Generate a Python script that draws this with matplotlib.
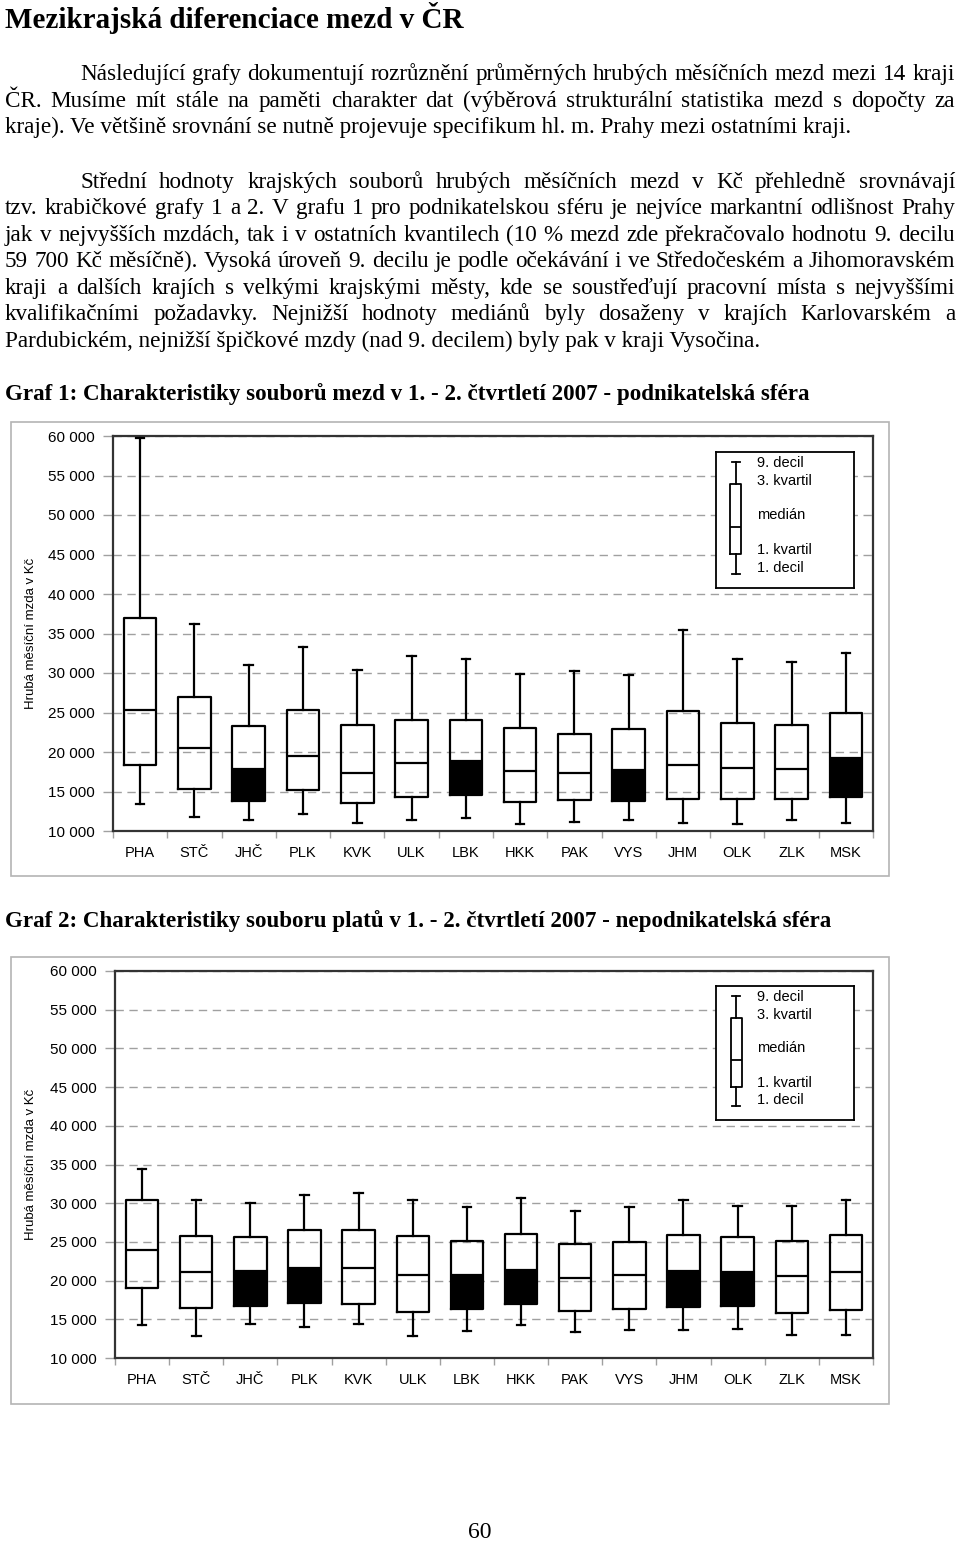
import matplotlib
matplotlib.use('Agg')
import matplotlib.pyplot as plt
from matplotlib.patches import Rectangle
import numpy as np

# kraje
kraje = ['PHA', 'STČ', 'JHČ', 'PLK', 'KVK', 'ULK', 'LBK', 'HKK', 'PAK', 'VYS', 'JHM', 'OLK', 'ZLK', 'MSK']

# Graf 1 - podnikatelska sfera
d1_pod = [13400, 11800, 11350, 12100, 11050, 11350, 11650, 10900, 11200, 11350, 11050, 10900, 11350, 11050]
q1_pod = [18300, 15350, 13850, 15200, 13600, 14300, 14600, 13700, 13900, 13850, 14000, 14000, 14000, 14250]
med_pod = [25300, 20550, 17900, 19500, 17300, 18650, 18800, 17600, 17300, 17750, 18300, 18000, 17900, 19250]
q3_pod = [37000, 26950, 23250, 25300, 23400, 24100, 24100, 23100, 22300, 22900, 25150, 23650, 23400, 25000]
d9_pod = [59700, 36150, 30950, 33350, 30400, 32150, 31750, 29850, 30200, 29750, 35400, 31800, 31400, 32550]
cerne_pod = ['JHČ', 'LBK', 'VYS', 'MSK']

# Graf 2 - nepodnikatelska sfera
d1_nep = [14200, 12850, 14350, 14050, 14350, 12850, 13500, 14200, 13300, 13600, 13600, 13750, 12950, 12950]
q1_nep = [19100, 16500, 16750, 17050, 16950, 15900, 16300, 16950, 16050, 16350, 16650, 16750, 15750, 16200]
med_nep = [23900, 21150, 21200, 21650, 21650, 20750, 20750, 21350, 20300, 20750, 21200, 21050, 20600, 21050]
q3_nep = [30350, 25750, 25600, 26550, 26500, 25750, 25150, 26000, 24700, 25000, 25900, 25600, 25100, 25900]
d9_nep = [34400, 30350, 30000, 31050, 31350, 30450, 29550, 30650, 28950, 29550, 30350, 29700, 29700, 30450]
cerne_nep = ['JHČ', 'PLK', 'LBK', 'HKK', 'JHM', 'OLK']

yticks = list(range(10000, 60001, 5000))
legenda = ['9. decil', '3. kvartil', 'medián', '1. kvartil', '1. decil']

W, H = 960, 1545
fig = plt.figure(figsize=(W / 100, H / 100), dpi=100)
fig.patch.set_facecolor('white')
r = fig.canvas.get_renderer()

SERIF = ['Liberation Serif', 'DejaVu Serif']
SANS = ['Liberation Sans', 'DejaVu Sans']
BODY = 16.7


def fx(px):
    return px / W


def fy(py):
    return 1 - py / H


def text_width(s, size, weight):
    t = fig.text(0, 0, s, fontsize=size, family=SERIF, fontweight=weight)
    w = t.get_window_extent(renderer=r).width
    t.remove()
    return w


def radek(s, y, x0=5, x1=None, size=BODY, weight='normal'):
    # y = stred malych pismen; x1 zadano -> zarovnani do bloku
    base = fy(y + size * 0.36)
    if x1 is None:
        fig.text(fx(x0), base, s, fontsize=size, family=SERIF, fontweight=weight, va='baseline')
        return
    slova = s.split(' ')
    sirky = [text_width(w, size, weight) for w in slova]
    mezera = (x1 - x0 - sum(sirky)) / (len(slova) - 1)
    x = x0
    for w, sw in zip(slova, sirky):
        fig.text(fx(x), base, w, fontsize=size, family=SERIF, fontweight=weight, va='baseline')
        x += sw + mezera


radek('Mezikrajská diferenciace mezd v ČR', 20, size=21, weight='bold')

radek('Následující grafy dokumentují rozrůznění průměrných hrubých měsíčních mezd mezi 14 kraji', 74, 80, 955)
radek('ČR. Musíme mít stále na paměti charakter dat (výběrová strukturální statistika mezd s dopočty za', 101, 5, 955)
radek('kraje). Ve většině srovnání se nutně projevuje specifikum hl. m. Prahy mezi ostatními kraji.', 127)

radek('Střední hodnoty krajských souborů hrubých měsíčních mezd v Kč přehledně srovnávají', 182, 80, 955)
radek('tzv. krabičkové grafy 1 a 2. V grafu 1 pro podnikatelskou sféru je nejvíce markantní odlišnost Prahy', 208, 5, 955)
radek('jak v nejvyšších mzdách, tak i v ostatních kvantilech (10 % mezd zde překračovalo hodnotu 9. decilu', 235, 5, 955)
radek('59 700 Kč měsíčně). Vysoká úroveň 9. decilu je podle očekávání i ve Středočeském a Jihomoravském', 261, 5, 955)
radek('kraji a dalších krajích s velkými krajskými městy, kde se soustřeďují pracovní místa s nejvyššími', 288, 5, 955)
radek('kvalifikačními požadavky. Nejnižší hodnoty mediánů byly dosaženy v krajích Karlovarském a', 314, 5, 955)
radek('Pardubickém, nejnižší špičkové mzdy (nad 9. decilem) byly pak v kraji Vysočina.', 341)

radek('Graf 1: Charakteristiky souborů mezd v 1. - 2. čtvrtletí 2007 - podnikatelská sféra', 394, size=16.6, weight='bold')
radek('Graf 2: Charakteristiky souboru platů v 1. - 2. čtvrtletí 2007 - nepodnikatelská sféra', 921, size=16.6, weight='bold')

fig.text(0.5, fy(1533), '60', fontsize=17, family=SERIF, ha='center', va='center')


def graf(rect, frame, d1, q1, med, q3, d9, cerne):
    # ramecek kolem grafu
    fig.patches.append(Rectangle((fx(frame[0]), fy(frame[3])), fx(frame[2] - frame[0]),
                                 (frame[3] - frame[1]) / H, transform=fig.transFigure,
                                 fill=False, edgecolor='#b4b4b4', lw=1.2))
    ax = fig.add_axes([fx(rect[0]), fy(rect[3]), fx(rect[2] - rect[0]), (rect[3] - rect[1]) / H])
    pos = np.arange(len(kraje))
    stats = [dict(whislo=a, q1=b, med=c, q3=d, whishi=e, label=k)
             for a, b, c, d, e, k in zip(d1, q1, med, q3, d9, kraje)]
    maska = np.array([k in cerne for k in kraje])
    ax.bar(pos[maska], np.array(med)[maska] - np.array(q1)[maska], bottom=np.array(q1)[maska],
           width=0.6, color='black', zorder=2)
    ls = dict(color='black', lw=1.6)
    ax.bxp(stats, positions=pos, widths=0.6, capwidths=0.16, showfliers=False,
           boxprops=ls, whiskerprops=ls, capprops=ls, medianprops=ls, manage_ticks=False, zorder=3)
    ax.set_xlim(-0.5, len(kraje) - 0.5)
    ax.set_ylim(10000, 60000)
    ax.set_yticks(yticks)
    ax.set_yticklabels([f'{v:,}'.replace(',', ' ') for v in yticks], fontsize=11, family=SANS)
    ax.set_xticks(pos)
    ax.set_xticklabels(kraje, fontsize=10.5, family=SANS)
    ax.set_xticks(np.arange(len(kraje) + 1) - 0.5, minor=True)
    ax.tick_params(axis='x', which='major', length=0, pad=11)
    ax.tick_params(axis='x', which='minor', length=5, color='#a0a0a0', width=1)
    ax.tick_params(axis='y', length=7, color='#a0a0a0', width=1, pad=6)
    ax.grid(axis='y', color='#a0a0a0', ls=(0, (6, 4)), lw=1)
    ax.set_axisbelow(True)
    for s in ax.spines.values():
        s.set_color('#333333')
        s.set_linewidth(1.6)
    fig.text(fx(31), fy((rect[1] + rect[3]) / 2), 'Hrubá měsíční mzda v Kč', rotation=90,
             fontsize=9.5, family=SANS, ha='center', va='center')

    # legenda
    lg = ax.inset_axes([0.793, 0.615, 0.182, 0.345])
    lg.set_xlim(0, 1)
    lg.set_ylim(0, 1)
    lg.bxp([dict(whislo=0.103, q1=0.25, med=0.449, q3=0.765, whishi=0.926)], positions=[0.145],
           widths=0.08, capwidths=0.06, showfliers=False, manage_ticks=False,
           boxprops=dict(color='black', lw=1.3), whiskerprops=dict(color='black', lw=1.3),
           capprops=dict(color='black', lw=1.3), medianprops=dict(color='black', lw=1.3))
    for t, yy in zip(legenda, [0.919, 0.787, 0.537, 0.279, 0.147]):
        lg.text(0.30, yy, t, fontsize=10.5, family=SANS, va='center', transform=lg.transAxes)
    lg.set_xticks([])
    lg.set_yticks([])
    for s in lg.spines.values():
        s.set_color('black')
        s.set_linewidth(1.3)
    lg.set_facecolor('white')
    lg.set_zorder(5)
    return ax


graf((113, 436, 873, 831), (11, 422, 889, 876), d1_pod, q1_pod, med_pod, q3_pod, d9_pod, cerne_pod)
graf((115, 971, 873, 1358), (11, 957, 889, 1404), d1_nep, q1_nep, med_nep, q3_nep, d9_nep, cerne_nep)

fig.savefig('out.png', dpi=100, facecolor='white')
